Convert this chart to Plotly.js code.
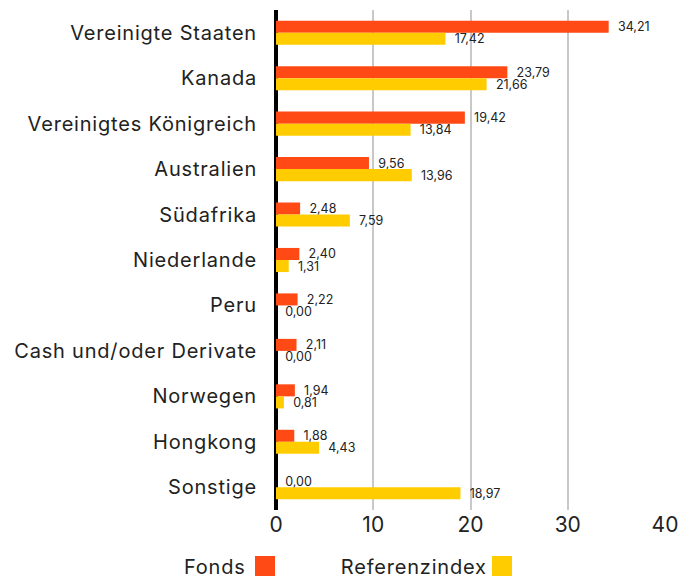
<!DOCTYPE html>
<html><head><meta charset="utf-8">
<script src="https://cdn.plot.ly/plotly-3.0.1.min.js"></script>
<style>body{margin:0;background:#fff}#c{width:695px;height:583px}
#c .ytick text, #c .annotation-text{letter-spacing:0.8px}</style>
</head><body><div id="c"></div>
<script>
const categories = ["Vereinigte Staaten","Kanada","Vereinigtes Königreich","Australien","Südafrika","Niederlande","Peru","Cash und/oder Derivate","Norwegen","Hongkong","Sonstige"];
const fonds = [34.21,23.79,19.42,9.56,2.48,2.40,2.22,2.11,1.94,1.88,0.00];
const referenz = [17.42,21.66,13.84,13.96,7.59,1.31,0.00,0.00,0.81,4.43,18.97];
const seriesNames = ["Fonds","Referenzindex"];
const colors = ["#FF4A16","#FFCC00"];
const fmt = v => "\u2002" + v.toFixed(2).replace(".", ",");
const font = "Inter, Noto Sans, sans-serif";
const traces = [fonds, referenz].map((vals,i)=>({
  type:"bar", orientation:"h", y:categories, x:vals, name:seriesNames[i],
  marker:{color:colors[i]}, text:vals.map(fmt), textposition:"outside", constraintext:"none",
  textfont:{size:12.5,color:"#222",family:font}, cliponaxis:false, hoverinfo:"none"
}));
const layout = {
  width:695, height:583, margin:{l:276,r:30,t:10,b:73},
  barmode:"group", bargap:0.47, bargroupgap:0, showlegend:false,
  font:{family:font,color:"#222"},
  xaxis:{range:[0,40], dtick:10, showgrid:true, gridcolor:"#c8c8c8", gridwidth:2,
    zeroline:true, zerolinecolor:"#000", zerolinewidth:4, tickfont:{size:21,color:"#222"},
    ticks:"", fixedrange:true},
  yaxis:{autorange:"reversed", tickfont:{size:20,color:"#222"}, ticks:"", ticklen:0,
    ticklabelstandoff:18, showgrid:false, zeroline:false},
  annotations:[
    {xref:"paper",yref:"paper",x:(246-276)/389,y:-(567-510)/500,xanchor:"right",yanchor:"middle",text:seriesNames[0],showarrow:false,font:{size:20,color:"#222",family:font}},
    {xref:"paper",yref:"paper",x:(484-276)/389,y:-(567-510)/500,xanchor:"right",yanchor:"middle",text:seriesNames[1],showarrow:false,font:{size:20,color:"#222",family:font}}
  ],
  shapes:[
    {type:"rect",xref:"paper",yref:"paper",x0:(255-276)/389,x1:(275-276)/389,y0:-(576-510)/500,y1:-(556-510)/500,fillcolor:colors[0],line:{width:0}},
    {type:"rect",xref:"paper",yref:"paper",x0:(492-276)/389,x1:(512-276)/389,y0:-(576-510)/500,y1:-(556-510)/500,fillcolor:colors[1],line:{width:0}}
  ]
};
Plotly.newPlot("c", traces, layout, {displayModeBar:false, staticPlot:true});
</script></body></html>
